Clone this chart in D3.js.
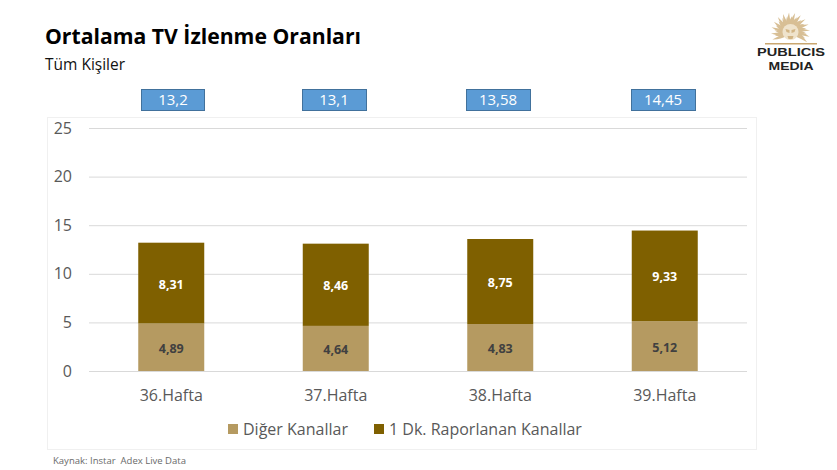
<!DOCTYPE html>
<html><head><meta charset="utf-8">
<script src="https://cdn.jsdelivr.net/npm/d3@7"></script>
<style>html,body{margin:0;padding:0;background:#fff}svg{display:block}text{font-family:"Open Sans",sans-serif;white-space:pre}</style>
</head><body><svg id="c" width="837" height="470"></svg>
<script>
const weeks = ["36.Hafta","37.Hafta","38.Hafta","39.Hafta"];
const other = [4.89,4.64,4.83,5.12];
const reported = [8.31,8.46,8.75,9.33];
const totals = ["13,2","13,1","13,58","14,45"];
const yTicks = [0,5,10,15,20,25];
const seriesNames = ["Diğer Kanallar","1 Dk. Raporlanan Kanallar"];
const seriesColors = ["#b59a61","#7f6000"];

const svg = d3.select("#c");
const fmt = v => v.toFixed(2).replace(".",",");
const x = d3.scaleBand().domain(weeks).range([89,747]);
const y = d3.scaleLinear().domain([0,25]).range([371,128]);
const barW = 66;
const cx = w => x(w) + x.bandwidth()/2;

svg.append("rect").attr("x",47.5).attr("y",117.5).attr("width",709).attr("height",332)
  .attr("fill","#fff").attr("stroke","#f0f0f0");

svg.append("text").attr("x",45).attr("y",44).attr("font-size",21.5).attr("font-weight",700).attr("fill","#000")
  .attr("textLength",316).attr("lengthAdjust","spacingAndGlyphs").text("Ortalama TV İzlenme Oranları");
svg.append("text").attr("x",45).attr("y",70).attr("font-size",15.5).attr("fill","#111").text("Tüm Kişiler");

// total boxes (placed by hand in the original, slightly off the bar centres)
const boxLeft = [141,302,466,631];
const boxWidth = 64;
weeks.forEach((w,i)=>{
  svg.append("rect").attr("x",boxLeft[i]+0.5).attr("y",89.5).attr("width",boxWidth-(i===0?1:0)).attr("height",21)
    .attr("fill","#5b9bd5").attr("stroke","#41719c");
  svg.append("text").attr("x",boxLeft[i]+boxWidth/2).attr("y",105).attr("text-anchor","middle").attr("font-size",15).attr("fill","#fff").text(totals[i]);
});

// axes
const gy = svg.append("g").attr("transform","translate(89,0)")
  .call(d3.axisLeft(y).tickValues(yTicks).tickSize(-658).tickPadding(17));
gy.select(".domain").remove();
gy.selectAll("line").attr("stroke","#d9d9d9").attr("stroke-width",1);
gy.selectAll("text").attr("font-size",16).attr("fill","#595959");

const gx = svg.append("g").attr("transform","translate(0,371)")
  .call(d3.axisBottom(x).tickSize(0).tickPadding(19));
gx.select(".domain").remove();
gx.selectAll("text").attr("font-size",16).attr("fill","#595959");

// bars
const rows = weeks.map((w,i)=>({w,a:other[i],b:reported[i]}));
const bars = svg.append("g");
bars.selectAll(".a").data(rows).join("rect").attr("class","a")
  .attr("x",d=>cx(d.w)-barW/2).attr("width",barW)
  .attr("y",d=>y(d.a)).attr("height",d=>y(0)-y(d.a)).attr("fill",seriesColors[0]);
bars.selectAll(".b").data(rows).join("rect").attr("class","b")
  .attr("x",d=>cx(d.w)-barW/2).attr("width",barW)
  .attr("y",d=>y(d.a+d.b)).attr("height",d=>y(d.a)-y(d.a+d.b)).attr("fill",seriesColors[1]);
bars.selectAll(".la").data(rows).join("text").attr("class","la")
  .attr("x",d=>cx(d.w)).attr("y",d=>y(d.a/2)+5.5).attr("text-anchor","middle")
  .attr("font-size",12.5).attr("font-weight",700).attr("fill","#404040").text(d=>fmt(d.a));
bars.selectAll(".lb").data(rows).join("text").attr("class","lb")
  .attr("x",d=>cx(d.w)).attr("y",d=>y(d.a+d.b/2)+5.5).attr("text-anchor","middle")
  .attr("font-size",12.5).attr("font-weight",700).attr("fill","#fff").text(d=>fmt(d.b));

// legend
[[228,243],[374,389]].forEach(([sx,tx],i)=>{
  svg.append("rect").attr("x",sx).attr("y",424).attr("width",10).attr("height",10).attr("fill",seriesColors[i]);
  svg.append("text").attr("x",tx).attr("y",435).attr("font-size",16).attr("fill","#595959").text(seriesNames[i]);
});

svg.append("text").attr("x",53).attr("y",464).attr("font-size",9.2).attr("fill","#6a6a6a")
  .attr("textLength",133).attr("lengthAdjust","spacingAndGlyphs").text("Kaynak: Instar  Adex Live Data");

// logo
svg.append("clipPath").attr("id","sunClip").append("rect").attr("x",760).attr("y",5).attr("width",60).attr("height",38);
const logo = svg.append("g");
const sun = logo.append("g").attr("clip-path","url(#sunClip)").append("g").attr("transform","translate(790.5,32)");
d3.range(-117,118,9).forEach((a,i)=>{
  const len = i%2 ? 16 : 19.5;
  sun.append("path")
    .attr("d",`M-1.8,-6Q-2.6,${-len*0.6} 1.6,${-len}Q1.4,${-len*0.6} 1.8,-6Z`)
    .attr("transform",`rotate(${a})`).attr("fill","#d8bf95");
});
sun.append("circle").attr("r",8).attr("fill","#efe3cc");
sun.append("path").attr("d","M-5,-3L-1,-2L-1,1L-4,0ZM5,-3L1,-2L1,1L4,0ZM-3,4L3,4L2,7L-2,7Z").attr("fill","#d2b585");
logo.append("rect").attr("x",765).attr("y",43).attr("width",52).attr("height",1.5).attr("fill","#c9a66f");
logo.append("text").attr("x",791).attr("y",56).attr("text-anchor","middle").attr("font-size",11.5).attr("font-weight",700).attr("fill","#222")
  .style("font-family","'Liberation Sans',sans-serif")
  .attr("textLength",68).attr("lengthAdjust","spacingAndGlyphs").text("PUBLICIS");
logo.append("text").attr("x",791).attr("y",70).attr("text-anchor","middle").attr("font-size",11.5).attr("font-weight",700).attr("fill","#222")
  .style("font-family","'Liberation Sans',sans-serif")
  .attr("textLength",45).attr("lengthAdjust","spacingAndGlyphs").text("MEDIA");
</script></body></html>
